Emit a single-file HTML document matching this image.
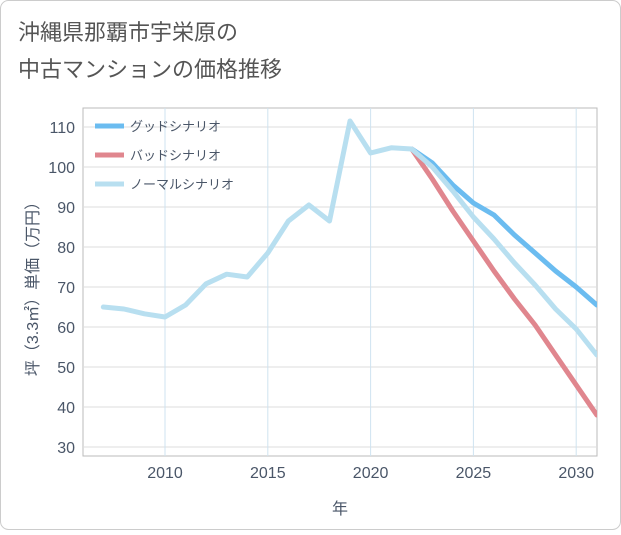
<!DOCTYPE html>
<html><head><meta charset="utf-8"><style>
body{margin:0;background:#fff;}
#wrap{position:relative;width:621px;height:530px;font-family:"Liberation Sans","Noto Sans CJK JP",sans-serif;}
svg text{font-family:"Liberation Sans","Noto Sans CJK JP",sans-serif;}
</style></head><body>
<div id="wrap">
<svg id="chart" width="621" height="530">
<rect x="0.5" y="0.5" width="620" height="529" rx="8" fill="#fff" stroke="#ccc"/>
<text x="18" y="40" font-size="22" fill="#555">沖縄県那覇市宇栄原の</text>
<text x="18" y="77" font-size="22" fill="#555">中古マンションの価格推移</text>
<g id="grid"></g><g id="axes"></g><g id="lines"></g><g id="legend"></g>
</svg></div>
<script>
const years=[2007,2008,2009,2010,2011,2012,2013,2014,2015,2016,2017,2018,2019,2020,2021,2022,2023,2024,2025,2026,2027,2028,2029,2030,2031];
const normalVals=[65,64.5,63.3,62.5,65.5,70.8,73.2,72.5,78.5,86.5,90.5,86.5,111.5,103.5,104.8,104.5,100,94,87.5,82,76,70.5,64.5,59.5,53];
const goodYears=[2022,2023,2024,2025,2026,2027,2028,2029,2030,2031];
const goodVals=[104.5,101,95.5,91,88,83,78.5,74,70,65.5];
const badYears=[2022,2023,2024,2025,2026,2027,2028,2029,2030,2031];
const badVals=[104.5,97,89,81.5,74,67,60.5,53,45.5,38];
const xTicks=[2010,2015,2020,2025,2030];
const yTicks=[30,40,50,60,70,80,90,100,110];
const seriesNames=["グッドシナリオ","バッドシナリオ","ノーマルシナリオ"];
const NS="http://www.w3.org/2000/svg";
const L=83,R=597,T=108,B=456;
const TXT='#4a5668';
const x=v=>165+(v-2010)*20.56;
const y=v=>127+(110-v)*4;
function mk(tag,attrs,parent){const e=document.createElementNS(NS,tag);for(const k in attrs)e.setAttribute(k,attrs[k]);parent.appendChild(e);return e;}
const grid=document.getElementById('grid'),axes=document.getElementById('axes'),lines=document.getElementById('lines'),legend=document.getElementById('legend');
let r=mk('rect',{x:L,y:T,width:R-L,height:B-T,fill:'none',stroke:'#bbb'},grid);


yTicks.forEach(t=>{
 let g=mk('line',{x1:L,x2:R,y1:y(t),y2:y(t),stroke:'#ddd'},grid);
 
 
 let tx=mk('text',{x:L-8,y:y(t)+6,'text-anchor':'end','font-size':16,fill:TXT},axes);
 tx.textContent=t;
 
 
});
xTicks.forEach(t=>{
 let g=mk('line',{x1:x(t),x2:x(t),y1:T,y2:B,stroke:'#cfe3f0'},grid);
 
 
 let tx=mk('text',{x:x(t),y:B+22,'text-anchor':'middle','font-size':16,fill:TXT},axes);
 tx.textContent=t;
 
 
});
let xt=mk('text',{x:340,y:514,'text-anchor':'middle','font-size':16,fill:TXT},axes);
xt.textContent='年';


let yt=mk('text',{x:0,y:0,'text-anchor':'middle','font-size':16,fill:TXT,transform:'translate(38,285) rotate(-90)'},axes);
yt.textContent='坪（3.3㎡）単価（万円）';


function line(xs,vs,color,name){
 const d=xs.map((xx,i)=>(i?'L':'M')+x(xx).toFixed(1)+','+y(vs[i]).toFixed(1)).join('');
 let p=mk('path',{d:d,fill:'none',stroke:color,'stroke-width':5,'stroke-linejoin':'round','stroke-linecap':'round'},lines);
 
 
}
const cp=mk('clipPath',{id:'clip'},lines);mk('rect',{x:L,y:T,width:R-L,height:B-T},cp);
lines.setAttribute('clip-path','url(#clip)');
line(goodYears,goodVals,'#6bbcf0','good-scenario-line');
line(badYears,badVals,'#e0868e','bad-scenario-line');
line(years,normalVals,'#b8dff0','normal-scenario-line');
const colors=['#6bbcf0','#e0868e','#b8dff0'];
seriesNames.forEach((n,i)=>{
 const yy=126+i*29;
 let s=mk('line',{x1:95,x2:124,y1:yy,y2:yy,stroke:colors[i],'stroke-width':5},legend);
 
 
 let t=mk('text',{x:130,y:yy+5,'font-size':13,fill:TXT},legend);
 t.textContent=n;
 
 
});
</script>
</body></html>
